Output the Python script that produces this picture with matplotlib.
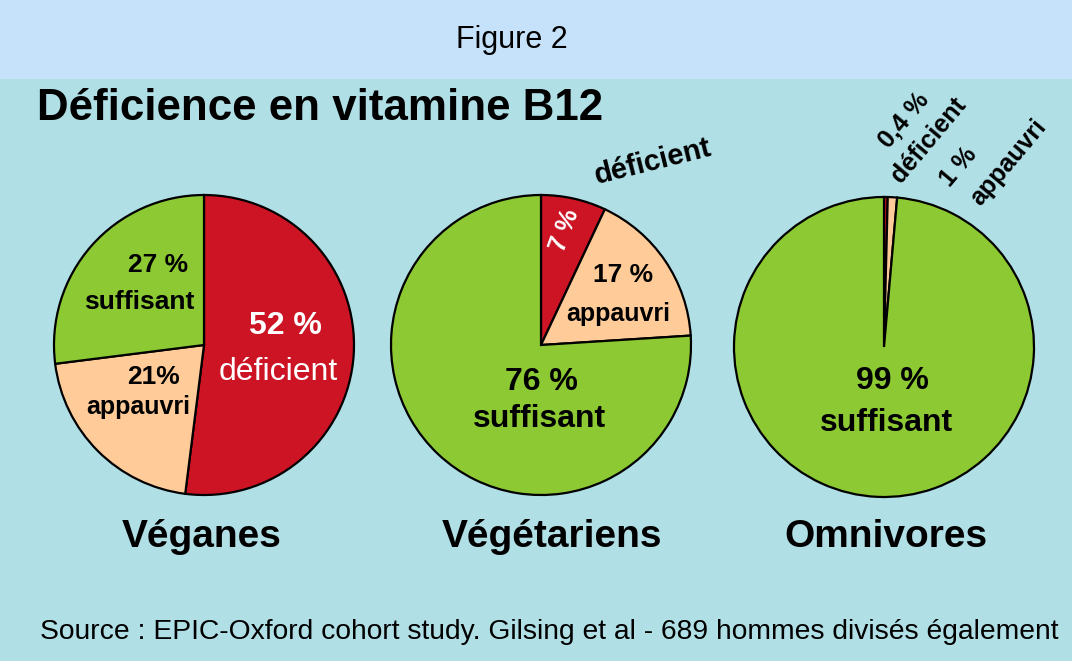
import matplotlib
matplotlib.use("Agg")
import matplotlib.pyplot as plt
from matplotlib.patches import Rectangle

plt.rcParams['font.family'] = ['Liberation Sans', 'DejaVu Sans']

W, H = 1072, 661

# parts: déficient, appauvri, suffisant
groups = ['Véganes', 'Végétariens', 'Omnivores']
vegan = [52, 21, 27]
vegetarian = [7, 17, 76]
omnivore = [0.4, 1, 98.6]
colors = ['#CC1424', '#FFCC99', '#8DC932']

bg_low = '#B0DFE6'
bg_top = '#C6E2FA'

fig = plt.figure(figsize=(W / 100, H / 100), dpi=100, facecolor=bg_low)
ax = fig.add_axes([0, 0, 1, 1])
ax.set_facecolor('none')

# bandeau du haut
ax.add_patch(Rectangle((0, H - 79), W, 79, facecolor=bg_top, edgecolor='none', zorder=0))

wedge = dict(edgecolor='black', linewidth=1.6)
centers = [(204, 345), (541, 345), (884, 347)]
for vals, c in zip([vegan, vegetarian, omnivore], centers):
    ax.pie(vals, colors=colors, startangle=90, counterclock=False,
           center=(c[0], H - c[1]), radius=150, wedgeprops=wedge)

ax.set_xlim(0, W)
ax.set_ylim(0, H)
ax.set_aspect('equal')
ax.axis('off')


def txt(x, y, s, size, color='black', weight='bold', rot=0, ha='center'):
    ax.text(x, H - y, s, fontsize=size, color=color, fontweight=weight,
            rotation=rot, ha=ha, va='center', rotation_mode='anchor', zorder=5)


# titres
txt(512, 40, 'Figure 2', 22, weight='normal')
txt(37, 108, 'Déficience en vitamine B12', 31.6, ha='left')

# véganes
txt(158, 265, '27 %', 19)
txt(139, 302, 'suffisant', 19)
txt(285, 326, '52 %', 23, color='white')
txt(278, 372, 'déficient', 23, color='white', weight='normal')
txt(154, 377, '21%', 19)
txt(138, 407, 'appauvri', 18)

# végétariens
txt(565, 230, '7 %', 18, color='white', rot=70)
txt(623, 275, '17 %', 19)
txt(618, 314, 'appauvri', 18)
txt(653, 162, 'déficient', 21, rot=14)
txt(541, 382, '76 %', 23)
txt(539, 419, 'suffisant', 23)

# omnivores
txt(892, 381, '99 %', 23)
txt(886, 423, 'suffisant', 23)
txt(904, 120, '0,4 %', 18, rot=50)
txt(929, 140, 'déficient', 18, rot=50)
txt(959, 167, '1 %', 18, rot=50)
txt(1008, 162, 'appauvri', 18, rot=50)

# noms des groupes
for name, x in zip(groups, [202, 552, 886]):
    txt(x, 537, name, 28)

txt(40, 632, 'Source : EPIC-Oxford cohort study. Gilsing et al - 689 hommes divisés également',
    20.3, weight='normal', ha='left')

fig.savefig('out.png', dpi=100, facecolor=fig.get_facecolor())
